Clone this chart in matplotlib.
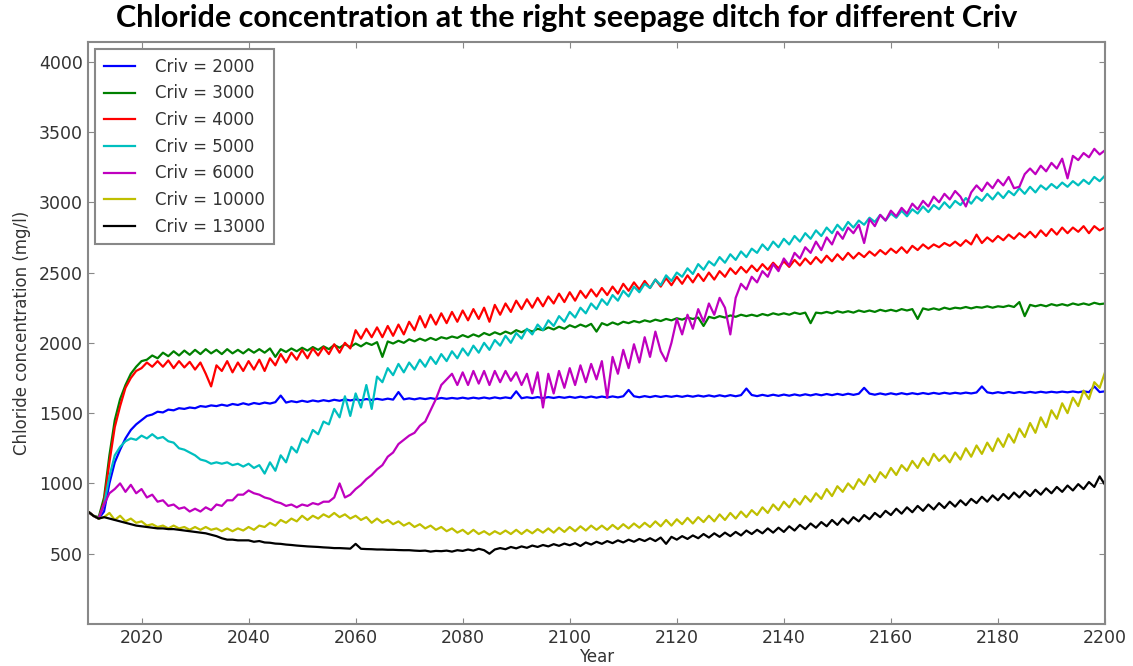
import matplotlib
matplotlib.use("Agg")
import matplotlib.pyplot as plt
import numpy as np

# yearly values, 2010..2200
years = np.arange(2010, 2201)

criv_2000 = [
    800, 770, 750, 800, 1000, 1150, 1240, 1320, 1380, 1420,
    1450, 1480, 1490, 1510, 1505, 1525, 1520, 1535, 1530, 1540,
    1535, 1550, 1545, 1555, 1550, 1560, 1552, 1565, 1558, 1570,
    1560, 1572, 1565, 1575, 1568, 1578, 1625, 1575, 1585, 1578,
    1588, 1580, 1590, 1583, 1592, 1585, 1595, 1588, 1598, 1590,
    1598, 1592, 1600, 1594, 1602, 1595, 1603, 1596, 1650, 1598,
    1605, 1598, 1606, 1600, 1607, 1600, 1608, 1602, 1608, 1603,
    1610, 1603, 1610, 1604, 1611, 1604, 1612, 1605, 1612, 1606,
    1655, 1606, 1613, 1607, 1614, 1607, 1614, 1608, 1615, 1609,
    1616, 1609, 1617, 1610, 1618, 1610, 1618, 1611, 1619, 1612,
    1620, 1665, 1620, 1613, 1621, 1614, 1622, 1615, 1622, 1616,
    1623, 1616, 1624, 1617, 1625, 1618, 1626, 1618, 1627, 1619,
    1628, 1620, 1628, 1675, 1629, 1621, 1630, 1622, 1631, 1623,
    1632, 1624, 1633, 1625, 1634, 1626, 1635, 1627, 1636, 1628,
    1637, 1629, 1638, 1630, 1638, 1680, 1639, 1631, 1640, 1632,
    1641, 1633, 1642, 1634, 1642, 1635, 1643, 1636, 1644, 1637,
    1645, 1638, 1645, 1639, 1646, 1640, 1647, 1690, 1648, 1641,
    1649, 1642, 1650, 1643, 1650, 1644, 1651, 1645, 1652, 1646,
    1652, 1647, 1653, 1648, 1654, 1648, 1655, 1649, 1690, 1650, 1655,
]

criv_3000 = [
    800, 770, 760, 900, 1200, 1450, 1600, 1700, 1780, 1830,
    1870, 1880, 1910, 1890, 1930, 1905, 1940, 1910, 1945, 1915,
    1950, 1920, 1955, 1925, 1950, 1920, 1955, 1925, 1950, 1925,
    1955, 1930, 1955, 1930, 1960, 1900, 1955, 1935, 1960, 1940,
    1965, 1945, 1970, 1950, 1975, 1955, 1985, 1965, 1990, 1970,
    1995, 1975, 2000, 1985, 2005, 1900, 2010, 1995, 2015, 2000,
    2025, 2010, 2030, 2015, 2035, 2020, 2040, 2030, 2045, 2035,
    2055, 2040, 2060, 2045, 2070, 2055, 2075, 2060, 2080, 2065,
    2090, 2075, 2095, 2080, 2100, 2090, 2110, 2095, 2115, 2100,
    2125, 2110, 2130, 2115, 2135, 2080, 2140, 2125, 2145, 2130,
    2150, 2140, 2155, 2145, 2160, 2150, 2165, 2155, 2170, 2160,
    2175, 2165, 2180, 2170, 2180, 2120, 2185, 2175, 2190, 2180,
    2195, 2185, 2200, 2190, 2200, 2190, 2205, 2195, 2210, 2200,
    2210, 2200, 2215, 2205, 2215, 2140, 2215, 2210, 2220, 2210,
    2225, 2215, 2225, 2215, 2230, 2220, 2230, 2220, 2235, 2225,
    2235, 2225, 2240, 2230, 2240, 2170, 2245, 2235, 2245, 2235,
    2250, 2240, 2250, 2245, 2255, 2245, 2255, 2250, 2260, 2250,
    2260, 2255, 2265, 2255, 2290, 2190, 2270, 2260, 2270, 2260,
    2275, 2265, 2275, 2265, 2280, 2270, 2280, 2270, 2285, 2275, 2280,
]

criv_4000 = [
    800, 770, 750, 870, 1150, 1400, 1550, 1680, 1750, 1800,
    1820, 1860, 1830, 1870, 1830, 1875, 1820, 1870, 1825, 1865,
    1810, 1860, 1780, 1690, 1840, 1800, 1870, 1790, 1860, 1800,
    1870, 1810, 1880, 1800, 1890, 1840, 1920, 1860, 1930, 1880,
    1950, 1890, 1960, 1910, 1970, 1920, 1990, 1930, 2000, 1960,
    2090, 2030, 2100, 2040, 2110, 2040, 2120, 2050, 2130, 2060,
    2150, 2090, 2190, 2110, 2200, 2130, 2210, 2140, 2220, 2150,
    2230, 2160, 2240, 2170, 2250, 2150, 2270, 2200, 2280, 2220,
    2300, 2240, 2310, 2250, 2320, 2260, 2330, 2280, 2350, 2290,
    2360, 2300, 2370, 2320, 2380, 2330, 2390, 2340, 2400, 2350,
    2420, 2370, 2430, 2380, 2440, 2390, 2450, 2400, 2460, 2410,
    2470, 2420, 2480, 2430, 2490, 2440, 2500, 2450, 2510, 2470,
    2530, 2490, 2540, 2500, 2550, 2510, 2560, 2520, 2570, 2530,
    2580, 2540, 2590, 2550, 2600, 2560, 2610, 2570, 2620, 2580,
    2630, 2590, 2640, 2600, 2640, 2610, 2650, 2620, 2660, 2630,
    2670, 2640, 2680, 2640, 2690, 2660, 2700, 2670, 2700, 2680,
    2710, 2690, 2720, 2690, 2730, 2700, 2770, 2710, 2750, 2720,
    2760, 2730, 2770, 2740, 2780, 2750, 2790, 2750, 2800, 2760,
    2810, 2770, 2820, 2780, 2820, 2790, 2830, 2780, 2830, 2800, 2820,
]

criv_5000 = [
    800, 770, 750, 850, 1050, 1200, 1260, 1300, 1320, 1310,
    1340, 1320, 1350, 1320, 1330, 1300, 1290, 1250, 1240, 1220,
    1200, 1170, 1160, 1140, 1150, 1140, 1150, 1130, 1140, 1120,
    1140, 1110, 1130, 1070, 1150, 1090, 1200, 1150, 1260, 1220,
    1320, 1290, 1380, 1350, 1440, 1420, 1530, 1470, 1620, 1480,
    1640, 1540, 1700, 1530, 1760, 1720, 1820, 1770, 1850, 1790,
    1860, 1810, 1880, 1830, 1900, 1850, 1920, 1870, 1940, 1890,
    1960, 1910, 1980, 1930, 2000, 1950, 2020, 1980, 2050, 2000,
    2070, 2030, 2100, 2060, 2130, 2090, 2160, 2120, 2190, 2150,
    2220, 2180, 2250, 2210, 2280, 2240, 2310, 2270, 2340, 2300,
    2370, 2330, 2400, 2360, 2420, 2390, 2450, 2410, 2480, 2440,
    2500, 2470, 2530, 2490, 2560, 2520, 2580, 2550, 2610, 2570,
    2630, 2590, 2650, 2610, 2670, 2640, 2700, 2660, 2720, 2680,
    2740, 2700, 2760, 2720, 2780, 2740, 2800, 2760, 2820, 2780,
    2840, 2800, 2860, 2820, 2870, 2840, 2890, 2860, 2910, 2870,
    2920, 2890, 2940, 2900, 2950, 2920, 2970, 2930, 2980, 2950,
    3000, 2960, 3010, 2980, 3030, 2990, 3040, 3010, 3060, 3020,
    3070, 3030, 3080, 3050, 3100, 3060, 3110, 3070, 3120, 3090,
    3130, 3100, 3140, 3110, 3150, 3120, 3160, 3130, 3180, 3150, 3190,
]

criv_6000 = [
    800, 770, 750, 850, 930, 960, 1000, 940, 990, 930,
    960, 900, 920, 870, 880, 840, 850, 820, 830, 800,
    820, 800, 830, 810, 850, 840, 880, 880, 920, 920,
    950, 930, 920, 900, 890, 870, 860, 840, 850, 830,
    850, 840, 860, 850, 870, 870, 900, 1000, 900, 920,
    960, 990, 1030, 1060, 1100, 1130, 1190, 1220, 1280, 1310,
    1340, 1360, 1410, 1440, 1520, 1600, 1700, 1740, 1780, 1700,
    1790, 1700, 1800, 1710, 1800, 1700, 1800, 1720, 1800, 1730,
    1790, 1700, 1780, 1640, 1790, 1540, 1780, 1640, 1800, 1680,
    1820, 1700, 1840, 1720, 1850, 1740, 1870, 1610, 1900, 1780,
    1950, 1820, 1990, 1860, 2040, 1900, 2080, 1940, 1870, 2000,
    2170, 2060, 2200, 2100, 2240, 2150, 2280, 2200, 2320, 2250,
    2060, 2320, 2420, 2380, 2470, 2430, 2510, 2470, 2560, 2510,
    2600, 2550, 2640, 2600, 2680, 2640, 2720, 2660, 2750, 2700,
    2790, 2740, 2820, 2780, 2840, 2710, 2880, 2830, 2910, 2870,
    2940, 2900, 2960, 2920, 2990, 2950, 3010, 2970, 3040, 3000,
    3060, 3020, 3080, 3040, 2970, 3070, 3120, 3080, 3140, 3100,
    3160, 3120, 3180, 3100, 3110, 3200, 3240, 3200, 3260, 3220,
    3280, 3240, 3310, 3170, 3330, 3300, 3350, 3320, 3380, 3340, 3370,
]

criv_10000 = [
    800, 770, 750, 760, 790, 740, 770, 730, 750, 720,
    730, 700, 710, 690, 700, 680, 700, 680, 690, 670,
    690, 670, 690, 670, 680, 660, 680, 660, 680, 665,
    690, 670, 700, 690, 720, 700, 740, 720, 750, 730,
    770, 740, 770, 750, 780, 760, 790, 760, 780, 750,
    770, 740, 760, 720, 750, 720, 740, 710, 730, 700,
    720, 690, 710, 680, 700, 670, 690, 660, 680, 650,
    670, 640, 670, 640, 660, 635, 660, 640, 665, 640,
    670, 640, 670, 645, 675, 650, 680, 650, 685, 655,
    690, 660, 695, 665, 700, 670, 700, 670, 705, 675,
    710, 680, 715, 685, 720, 690, 730, 695, 740, 700,
    745, 710, 755, 715, 760, 725, 770, 730, 780, 740,
    790, 750, 800, 760, 810, 775, 830, 790, 850, 810,
    870, 830, 890, 850, 910, 870, 930, 890, 960, 910,
    980, 940, 1000, 960, 1030, 990, 1060, 1010, 1080, 1040,
    1110, 1060, 1130, 1090, 1160, 1110, 1180, 1130, 1210, 1160,
    1200, 1150, 1220, 1170, 1250, 1190, 1270, 1210, 1290, 1230,
    1320, 1260, 1350, 1290, 1390, 1330, 1430, 1360, 1470, 1400,
    1520, 1460, 1570, 1500, 1610, 1550, 1660, 1600, 1720, 1680, 1790,
]

criv_13000 = [
    800, 770, 750, 760, 750, 740, 730, 720, 710, 700,
    695, 690, 685, 680, 680, 675, 675, 670, 665, 660,
    655, 650, 645, 635, 625, 610, 600, 600, 595, 595,
    595, 585, 590, 580, 578, 572, 570, 565, 562, 558,
    555, 552, 550, 548, 545, 543, 540, 540, 538, 536,
    570, 535, 533, 532, 530, 530, 528, 528, 526, 525,
    525, 522, 520, 522, 515, 520, 518, 522, 515, 525,
    520, 530, 522, 535, 525, 500, 530, 540, 532, 548,
    538, 552, 542, 558, 548, 562, 552, 568, 556, 572,
    560, 575, 555, 580, 565, 585, 570, 590, 575, 595,
    580, 600, 585, 605, 590, 610, 590, 615, 570, 620,
    600, 625, 605, 630, 610, 640, 615, 645, 620, 650,
    625, 655, 630, 665, 640, 670, 645, 680, 650, 685,
    655, 695, 665, 705, 675, 715, 685, 725, 695, 740,
    705, 750, 715, 760, 730, 775, 745, 790, 760, 805,
    775, 820, 785, 830, 795, 840, 805, 850, 815, 860,
    825, 870, 835, 880, 845, 890, 860, 905, 870, 915,
    880, 925, 890, 935, 900, 945, 910, 955, 920, 965,
    930, 975, 940, 985, 950, 995, 960, 1010, 975, 1050, 990,
]

series = [criv_2000, criv_3000, criv_4000, criv_5000, criv_6000, criv_10000, criv_13000]
labels = ['Criv = 2000', 'Criv = 3000', 'Criv = 4000', 'Criv = 5000',
          'Criv = 6000', 'Criv = 10000', 'Criv = 13000']
colors = ['#0000ff', '#008000', '#ff0000', '#00bfbf', '#bf00bf', '#bfbf00', '#000000']

fig = plt.figure(figsize=(11.33, 6.66), dpi=100)
ax = fig.add_axes([88 / 1133, 42 / 666, (1105 - 88) / 1133, (624 - 42) / 666])

for vals, lab, col in zip(series, labels, colors):
    ax.plot(years, vals, color=col, lw=1.6, label=lab)

ax.set_xlim(2010, 2200)
ax.set_ylim(0, 4140)
ax.set_xticks(range(2020, 2201, 20))
ax.set_yticks(range(500, 4001, 500))
ax.tick_params(direction='in', length=4, top=True, right=True,
               labelsize=12.5, labelcolor='#333333', color='#888888')
for sp in ax.spines.values():
    sp.set_color('#888888')
    sp.set_linewidth(1.5)

ax.set_xlabel('Year', fontsize=12, color='#333333', labelpad=1)
ax.set_ylabel('Chloride concentration (mg/l)', fontsize=12, color='#333333', labelpad=6)

leg = ax.legend(loc='upper left', fontsize=12, fancybox=False, framealpha=1,
                edgecolor='#888888', handlelength=1.9, handletextpad=1.2,
                labelspacing=0.52, borderpad=0.5, borderaxespad=0.45)
leg.get_frame().set_linewidth(1.5)
for t in leg.get_texts():
    t.set_color('#333333')

fig.text(0.5, 0.973, 'Chloride concentration at the right seepage ditch for different Criv',
         ha='center', va='center', fontsize=22, fontweight='bold',
         family=['Lato', 'DejaVu Sans'], color='black')

fig.savefig('out.png', dpi=100)
